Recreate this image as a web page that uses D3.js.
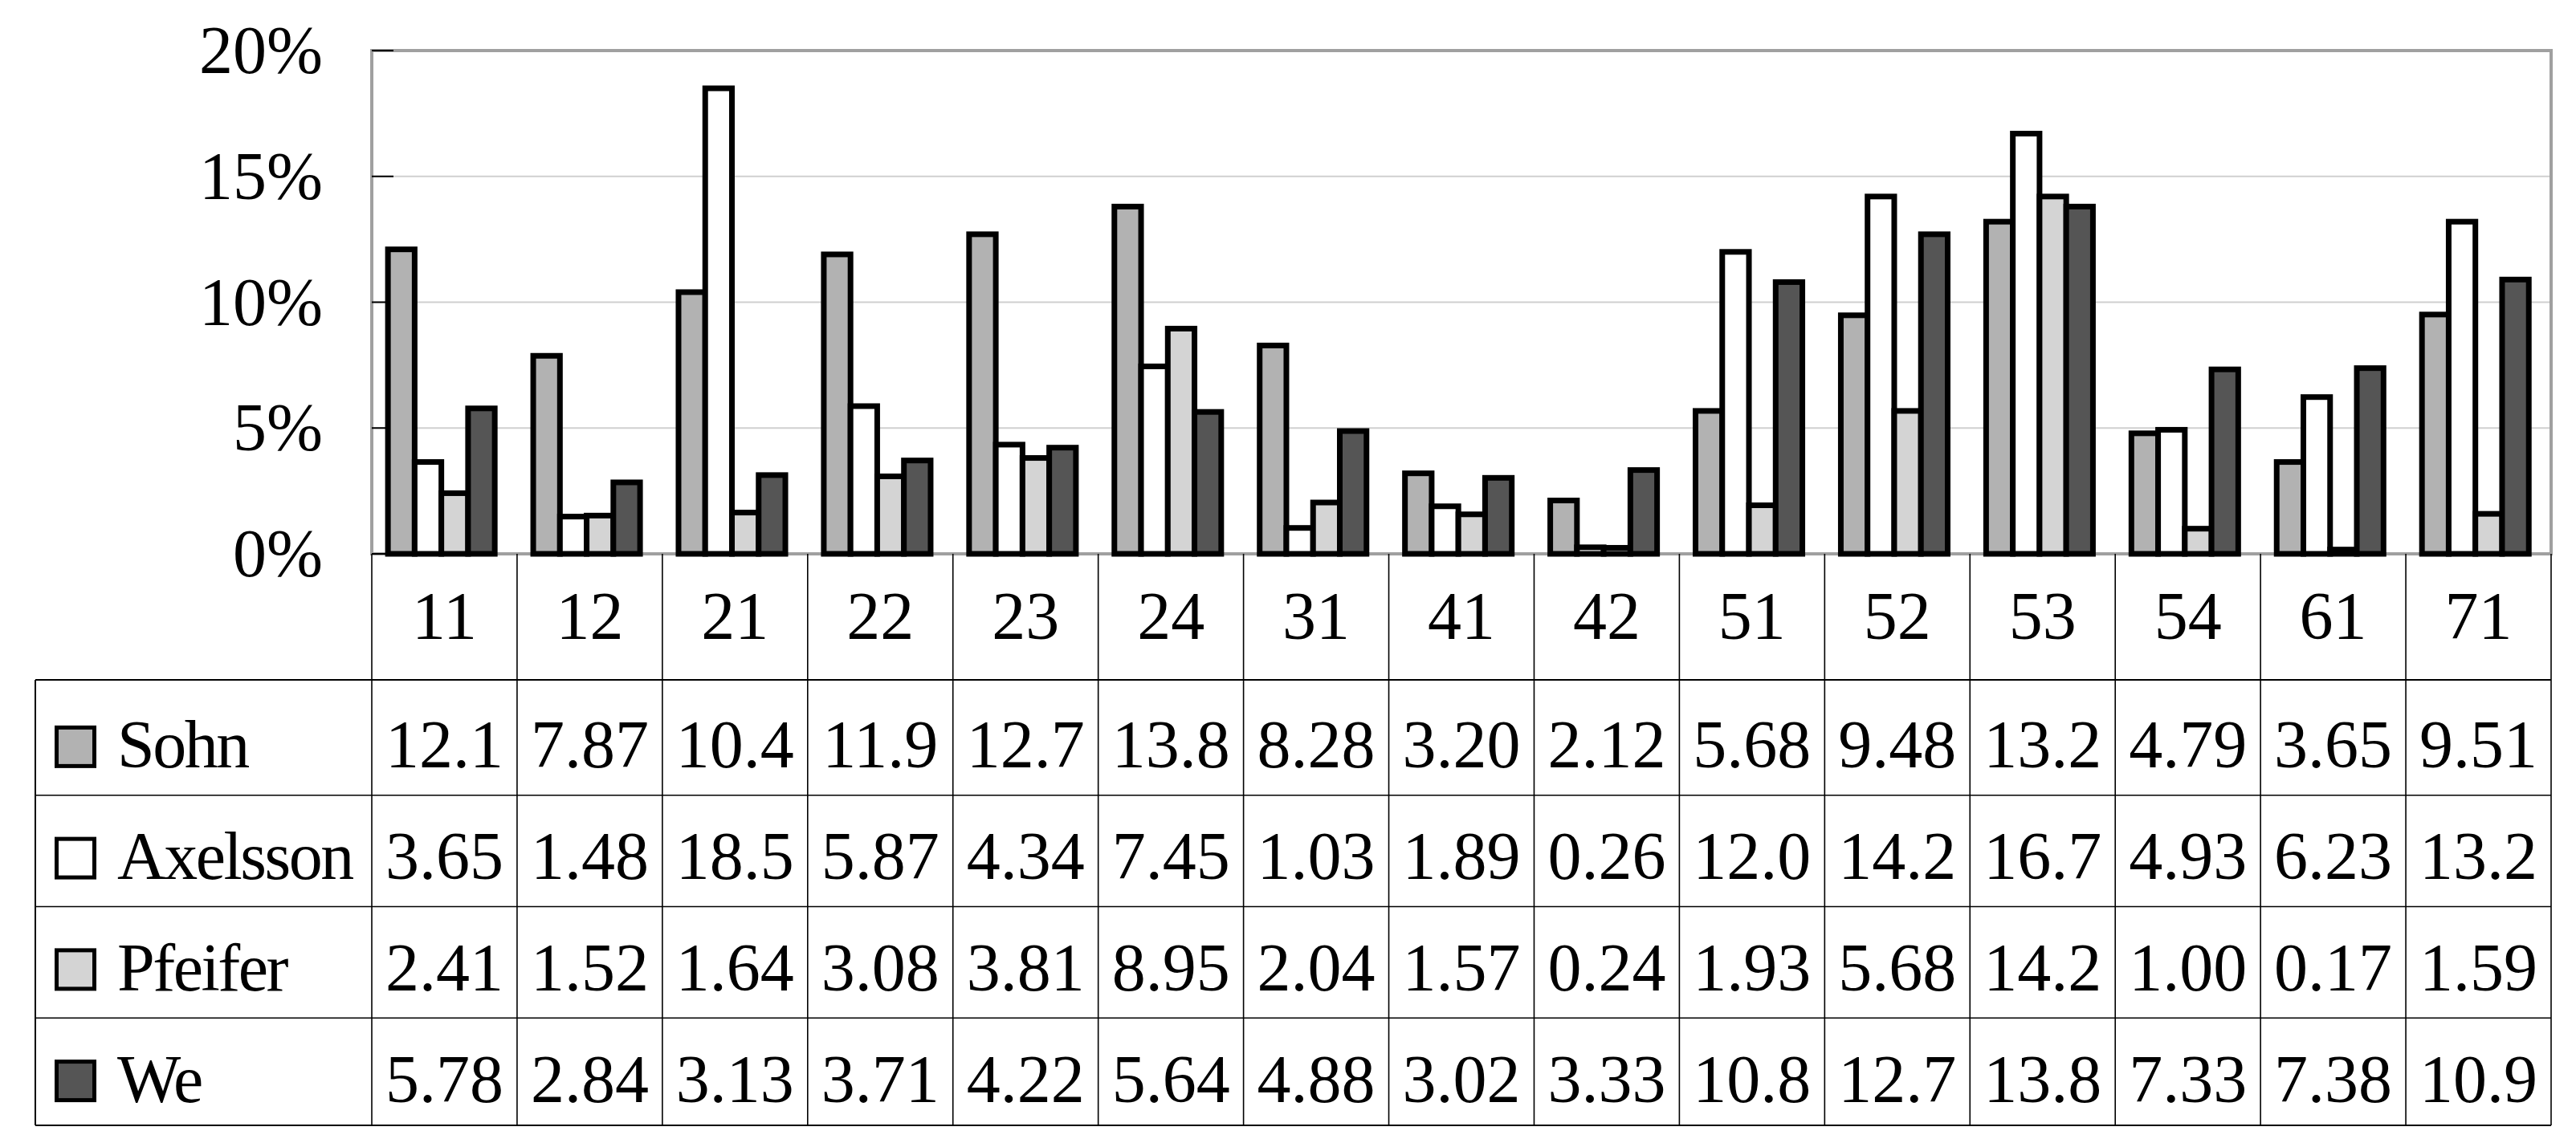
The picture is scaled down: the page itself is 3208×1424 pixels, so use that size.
<!DOCTYPE html>
<html>
<head>
<meta charset="utf-8">
<script src="https://cdn.jsdelivr.net/npm/d3@7"></script>
<style>
  html, body { margin: 0; padding: 0; background: #fff; }
  svg { display: block; }
  text { font-family: "Liberation Serif", "Times New Roman", Times, serif; fill: #000; }
</style>
</head>
<body>
<svg id="chart" width="3208" height="1424"></svg>
<script>
// ---- data ----
const categories = ["11","12","21","22","23","24","31","41","42","51","52","53","54","61","71"];
const seriesNames = ["Sohn","Axelsson","Pfeifer","We"];
const sohn     = [12.1, 7.87, 10.4, 11.9, 12.7, 13.8, 8.28, 3.20, 2.12, 5.68, 9.48, 13.2, 4.79, 3.65, 9.51];
const axelsson = [3.65, 1.48, 18.5, 5.87, 4.34, 7.45, 1.03, 1.89, 0.26, 12.0, 14.2, 16.7, 4.93, 6.23, 13.2];
const pfeifer  = [2.41, 1.52, 1.64, 3.08, 3.81, 8.95, 2.04, 1.57, 0.24, 1.93, 5.68, 14.2, 1.00, 0.17, 1.59];
const we       = [5.78, 2.84, 3.13, 3.71, 4.22, 5.64, 4.88, 3.02, 3.33, 10.8, 12.7, 13.8, 7.33, 7.38, 10.9];
const yTicks = [0, 5, 10, 15, 20];
const yTickLabels = ["0%", "5%", "10%", "15%", "20%"];

const seriesValues = { Sohn: sohn, Axelsson: axelsson, Pfeifer: pfeifer, We: we };
const colors = { Sohn: "#b2b2b2", Axelsson: "#ffffff", Pfeifer: "#d4d4d4", We: "#555555" };

// ---- layout ----
const plotL = 463, plotR = 3177, plotT = 63, plotB = 690;
const tableTop = 847, tableBottom = 1402, tableLeft = 44;
const fontSize = 84;

const svg = d3.select("#chart");

const x = d3.scaleBand().domain(categories).range([plotL, plotR]).padding(0);
const xs = d3.scaleBand().domain(seriesNames).range([0, x.bandwidth()])
  .paddingInner(0).paddingOuter(0.72).align(0.42);
const y = d3.scaleLinear().domain([0, 20]).range([plotB, plotT]);
const row = d3.scaleBand().domain(seriesNames).range([tableTop, tableBottom]);

const fmt = v => v >= 10 ? v.toFixed(1) : v.toFixed(2);

// gridlines
svg.append("g").selectAll("line")
  .data(yTicks.filter(t => t > 0 && t < 20))
  .join("line")
  .attr("x1", plotL).attr("x2", plotR)
  .attr("y1", d => y(d)).attr("y2", d => y(d))
  .attr("stroke", "#d0d0d0").attr("stroke-width", 2);

// plot border
svg.append("rect")
  .attr("x", plotL).attr("y", plotT)
  .attr("width", plotR - plotL).attr("height", plotB - plotT)
  .attr("fill", "none").attr("stroke", "#a0a0a0").attr("stroke-width", 4);

// tick marks (inward)
svg.append("g").selectAll("line")
  .data(yTicks)
  .join("line")
  .attr("x1", plotL).attr("x2", plotL + 27)
  .attr("y1", d => y(d)).attr("y2", d => y(d))
  .attr("stroke", "#000").attr("stroke-width", 2);

// y labels
svg.append("g").selectAll("text")
  .data(yTicks)
  .join("text")
  .attr("x", 402)
  .attr("y", d => y(d) + 28)
  .attr("text-anchor", "end")
  .attr("font-size", fontSize)
  .text((d, i) => yTickLabels[i]);

// bars
const groups = svg.append("g").selectAll("g")
  .data(categories)
  .join("g")
  .attr("transform", d => `translate(${x(d)},0)`);

groups.selectAll("rect")
  .data((c, ci) => seriesNames.map(s => ({ s, v: seriesValues[s][ci] })))
  .join("rect")
  .attr("x", d => xs(d.s))
  .attr("width", xs.bandwidth())
  .attr("y", d => y(d.v))
  .attr("height", d => y(0) - y(d.v))
  .attr("fill", d => colors[d.s])
  .attr("stroke", "#000")
  .attr("stroke-width", 7)
  .attr("stroke-linejoin", "miter");

// ---- data table ----
const tg = svg.append("g");

// vertical lines at category boundaries
const boundaries = categories.map(c => x(c)).concat([plotR]);
tg.selectAll("line.v")
  .data(boundaries)
  .join("line")
  .attr("class", "v")
  .attr("x1", d => d).attr("x2", d => d)
  .attr("y1", plotB).attr("y2", tableBottom)
  .attr("stroke", "#000").attr("stroke-width", 1.6);

// left border of legend column
tg.append("line")
  .attr("x1", tableLeft).attr("x2", tableLeft)
  .attr("y1", tableTop).attr("y2", tableBottom)
  .attr("stroke", "#000").attr("stroke-width", 2);

// horizontal lines
const hLines = [tableTop].concat(seriesNames.slice(1).map(s => row(s) + 5)).concat([tableBottom]);
tg.selectAll("line.h")
  .data(hLines)
  .join("line")
  .attr("class", "h")
  .attr("x1", tableLeft).attr("x2", plotR)
  .attr("y1", d => d).attr("y2", d => d)
  .attr("stroke", "#000").attr("stroke-width", (d, i) => (i === 0 || i === hLines.length - 1) ? 2 : 1.6);

// category labels
tg.selectAll("text.cat")
  .data(categories)
  .join("text")
  .attr("class", "cat")
  .attr("x", d => x(d) + x.bandwidth() / 2)
  .attr("y", 796)
  .attr("text-anchor", "middle")
  .attr("font-size", fontSize)
  .text(d => d);

// legend + values rows
const rows = tg.selectAll("g.row")
  .data(seriesNames)
  .join("g")
  .attr("class", "row")
  .attr("transform", d => `translate(0,${row(d) + row.bandwidth() / 2 + 40})`);

rows.append("rect")
  .attr("x", 70.5).attr("y", -50)
  .attr("width", 47).attr("height", 48)
  .attr("fill", d => colors[d])
  .attr("stroke", "#000").attr("stroke-width", 5);

rows.append("text")
  .attr("x", 146).attr("y", 0)
  .attr("font-size", fontSize)
  .attr("letter-spacing", -2.5)
  .text(d => d);

rows.selectAll("text.val")
  .data(s => seriesValues[s].map((v, i) => ({ v, c: categories[i] })))
  .join("text")
  .attr("class", "val")
  .attr("x", d => x(d.c) + x.bandwidth() / 2)
  .attr("y", 0)
  .attr("text-anchor", "middle")
  .attr("font-size", fontSize)
  .text(d => fmt(d.v));
</script>
</body>
</html>
